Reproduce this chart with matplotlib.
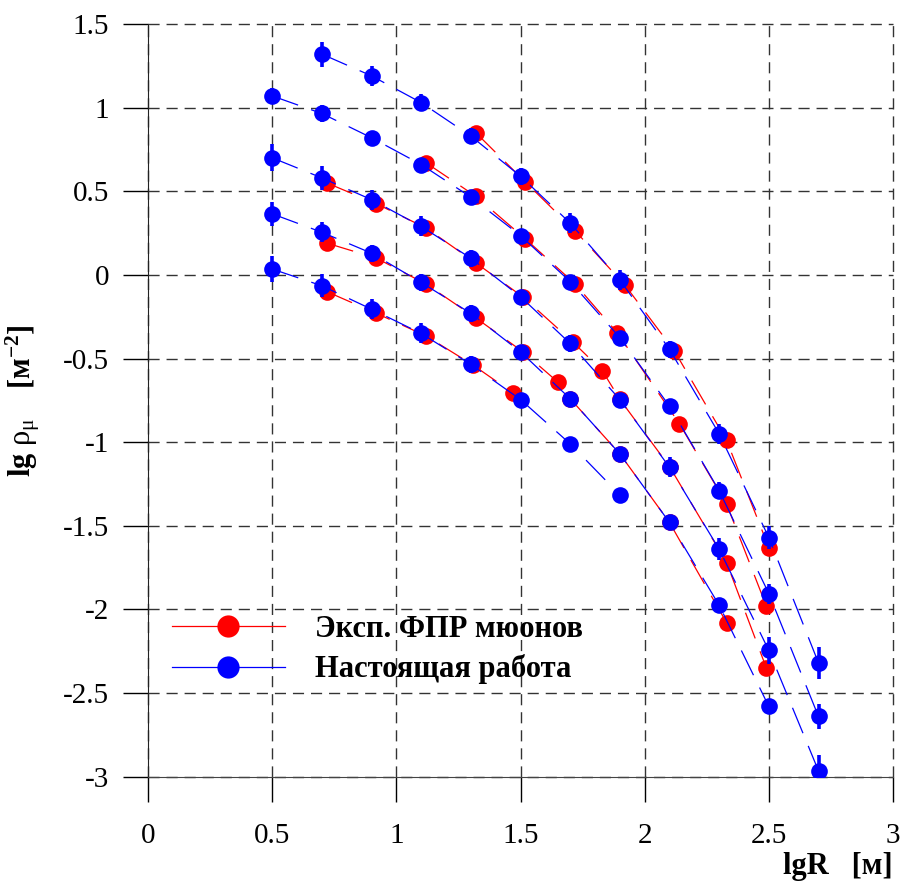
import numpy as np
import matplotlib
matplotlib.use('Agg')
import matplotlib.pyplot as plt
from matplotlib.lines import Line2D

plt.rcParams['font.family'] = ['Liberation Serif', 'DejaVu Serif']
plt.rcParams['mathtext.fontset'] = 'custom'
plt.rcParams['mathtext.rm'] = 'Liberation Serif'
plt.rcParams['mathtext.it'] = 'Liberation Serif:italic'
plt.rcParams['mathtext.bf'] = 'Liberation Serif:bold'
plt.rcParams['axes.unicode_minus'] = False

# blue: present work (lg R = 0.5 ... 2.7), five curves
lgR_blue = [0.5, 0.7, 0.9, 1.1, 1.3, 1.5, 1.7, 1.9, 2.1, 2.3, 2.5, 2.7]

blue_A_x = lgR_blue[1:]
blue_A_y = [1.32, 1.19, 1.03, 0.83, 0.59, 0.31, -0.03, -0.445, -0.95, -1.57, -2.32]
blue_A_e = [0.075, 0.06, 0.05, 0.05, 0.05, 0.06, 0.06, 0.05, 0.06, 0.07, 0.095]

blue_B_x = lgR_blue
blue_B_y = [1.07, 0.965, 0.82, 0.66, 0.465, 0.235, -0.04, -0.375, -0.785, -1.29, -1.905, -2.64]
blue_B_e = [0.05, 0.05, 0.04, 0.04, 0.04, 0.04, 0.04, 0.04, 0.04, 0.05, 0.06, 0.075]

blue_C_x = lgR_blue
blue_C_y = [0.70, 0.58, 0.45, 0.29, 0.10, -0.13, -0.41, -0.745, -1.15, -1.64, -2.245, -2.965]
blue_C_e = [0.08, 0.07, 0.06, 0.06, 0.05, 0.04, 0.05, 0.04, 0.06, 0.065, 0.08, 0.095]

blue_D_x = lgR_blue[:11]
blue_D_y = [0.365, 0.255, 0.13, -0.045, -0.23, -0.46, -0.74, -1.07, -1.48, -1.975, -2.58]
blue_D_e = [0.07, 0.06, 0.05, 0.05, 0.05, 0.04, 0.04, 0.04, 0.04, 0.04, 0.045]

blue_E_x = lgR_blue[:8]
blue_E_y = [0.035, -0.065, -0.205, -0.35, -0.535, -0.745, -1.01, -1.315]
blue_E_e = [0.08, 0.07, 0.06, 0.06, 0.05, 0.04, 0.04, 0.04]

# red: experimental muon LDF
red_A_x = [1.32, 1.52, 1.72, 1.92, 2.12, 2.33, 2.50]
red_A_y = [0.85, 0.555, 0.263, -0.06, -0.455, -0.99, -1.63]

red_B_x = [1.12, 1.32, 1.52, 1.72, 1.89, 2.14, 2.33, 2.49]
red_B_y = [0.67, 0.47, 0.215, -0.054, -0.347, -0.89, -1.37, -1.98]

red_C_x = [0.72, 0.92, 1.12, 1.32, 1.51, 1.71, 1.83, 1.90, 2.10, 2.33, 2.49]
red_C_y = [0.55, 0.425, 0.28, 0.072, -0.132, -0.40, -0.574, -0.744, -1.146, -1.72, -2.35]

red_D_x = [0.72, 0.92, 1.12, 1.32, 1.51, 1.65, 1.70, 1.90, 2.10, 2.33]
red_D_y = [0.19, 0.10, -0.055, -0.257, -0.46, -0.64, -0.74, -1.07, -1.48, -2.08]

red_E_x = [0.72, 0.92, 1.12, 1.31, 1.47]
red_E_y = [-0.10, -0.23, -0.365, -0.54, -0.706]

x_ticks = [0, 0.5, 1, 1.5, 2, 2.5, 3]
x_ticklabels = ['0', '0.5', '1', '1.5', '2', '2.5', '3']
y_ticks = [1.5, 1, 0.5, 0, -0.5, -1, -1.5, -2, -2.5, -3]
y_ticklabels = ['1.5', '1', '0.5', '0', '-0.5', '-1', '-1.5', '-2', '-2.5', '-3']

dash = (0, (22, 11))

fig = plt.figure(figsize=(9.01, 8.84), dpi=100)
ax = fig.add_axes([148 / 901, 1 - 776.7 / 884, 745 / 901, 752.7 / 884])

for rx, ry in [(red_A_x, red_A_y), (red_B_x, red_B_y), (red_C_x, red_C_y),
               (red_D_x, red_D_y), (red_E_x, red_E_y)]:
    ax.plot(rx, ry, color='red', lw=0.9, ls=dash, zorder=3)
    ax.plot(rx, ry, 'o', color='red', ms=12, mec='none', zorder=4)

for bx, by, be in [(blue_A_x, blue_A_y, blue_A_e), (blue_B_x, blue_B_y, blue_B_e),
                   (blue_C_x, blue_C_y, blue_C_e), (blue_D_x, blue_D_y, blue_D_e),
                   (blue_E_x, blue_E_y, blue_E_e)]:
    ax.plot(bx, by, color='blue', lw=0.9, ls=dash, zorder=5)
    ax.errorbar(bx, by, yerr=be, fmt='o', color='blue', ms=12, mec='none',
                elinewidth=2.6, capsize=0, zorder=6)

ax.set_xlim(0, 3)
ax.set_ylim(-3, 1.5)
ax.set_xticks(x_ticks)
ax.set_xticklabels(x_ticklabels)
ax.set_yticks(y_ticks)
ax.set_yticklabels(y_ticklabels)

ax.spines['top'].set_visible(False)
ax.spines['right'].set_visible(False)
ax.spines['left'].set_color('#222222')
ax.spines['bottom'].set_color('#444444')
ax.tick_params(direction='out', length=18, width=1, labelsize=21, colors='black')
ax.tick_params(axis='x', pad=15)
ax.tick_params(axis='y', pad=10)

ax.grid(True, color='#333333', lw=1, ls=(0, (8, 5)), zorder=1)
for gl in ax.get_xgridlines() + ax.get_ygridlines():
    gl.set_clip_on(False)

ax.set_ylabel(r'$\mathbf{lg}\ \mathrm{\rho}_{\mathrm{\mu}}\ \ \ \ \mathbf{[м^{-2}]}$', fontsize=22)
ax.yaxis.set_label_coords(-0.142, 0.5)
ax.set_xlabel('lgR   [м]', fontsize=22, fontweight='bold', ha='right')
ax.xaxis.set_label_coords(1.0, -0.1)

handles = [Line2D([], [], color='red', lw=0.9, marker='o', ms=16, mec='none'),
           Line2D([], [], color='blue', lw=0.9, marker='o', ms=16, mec='none')]
ax.legend(handles, ['Эксп. ФПР мюонов', 'Настоящая работа'], loc='center left',
          bbox_to_anchor=(0.032, 0.169), frameon=False, borderpad=0, borderaxespad=0,
          handlelength=3.7, handletextpad=1.0, labelspacing=0.35,
          prop={'weight': 'bold', 'size': 22})

fig.savefig('out.png', dpi=100)
